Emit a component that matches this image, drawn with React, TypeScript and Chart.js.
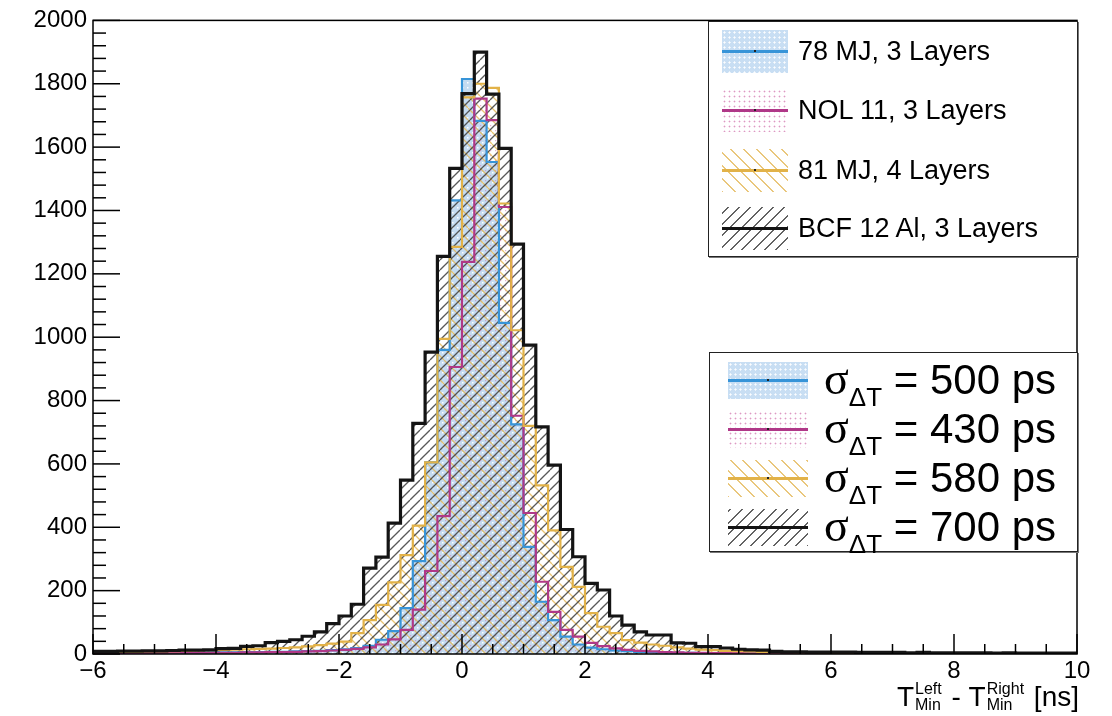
import React, { useEffect, useRef } from 'react';
import { Chart, registerables } from 'chart.js';

Chart.register(...registerables);

// ---------- data ----------
const BIN_START = -6;
const BIN_WIDTH = 0.2;
const X_MIN = -6;
const X_MAX = 10;
const Y_MIN = 0;
const Y_MAX = 2000;

const xTickValues = [-6, -4, -2, 0, 2, 4, 6, 8, 10];
const xTickLabels = ['\u22126', '\u22124', '\u22122', '0', '2', '4', '6', '8', '10'];
const yTickValues = [0, 200, 400, 600, 800, 1000, 1200, 1400, 1600, 1800, 2000];
const yTickLabels = ['0', '200', '400', '600', '800', '1000', '1200', '1400', '1600', '1800', '2000'];

const seriesNames = ['78 MJ, 3 Layers', 'NOL 11, 3 Layers', '81 MJ, 4 Layers', 'BCF 12 Al, 3 Layers'];
const sigmaValues = ['500', '430', '580', '700'];
const axisTitleUnit = '[ns]';

// counts per 0.2 ns bin, from -6 to 10 (80 bins)
const countsBlue = [
  3, 3, 3, 3, 3, 4, 4, 4, 4, 5,
  5, 5, 6, 6, 7, 7, 8, 9, 10, 12,
  15, 19, 26, 45, 72, 145, 293, 605, 960, 1432,
  1815, 1683, 1553, 1045, 725, 338, 165, 107, 55, 30,
  20, 15, 11, 9, 7, 6, 5, 4, 4, 3,
  3, 3, 2, 2, 2, 2, 2, 2, 1, 1,
  1, 1, 1, 1, 1, 1, 2, 2, 1, 1,
  1, 1, 2, 1, 1, 1, 1, 1, 1, 1,
];
const countsMagenta = [
  3, 3, 3, 3, 3, 3, 4, 4, 4, 4,
  4, 4, 5, 5, 6, 6, 7, 8, 9, 11,
  13, 16, 21, 30, 46, 76, 140, 262, 435, 906,
  1238, 1753, 1685, 1411, 752, 445, 228, 133, 76, 55,
  35, 25, 18, 13, 10, 8, 6, 5, 4, 4,
  3, 3, 3, 2, 2, 2, 2, 2, 1, 1,
  1, 1, 1, 1, 1, 1, 1, 1, 1, 1,
  1, 1, 1, 1, 1, 1, 1, 0, 1, 1,
];
const countsGold = [
  6, 6, 7, 7, 8, 8, 9, 10, 11, 12,
  13, 14, 15, 16, 17, 19, 21, 24, 28, 33,
  39, 66, 107, 155, 226, 312, 405, 605, 995, 1285,
  1757, 1800, 1787, 1422, 1022, 720, 532, 390, 275, 212,
  129, 86, 66, 44, 36, 30, 26, 21, 17, 14,
  12, 10, 9, 8, 7, 6, 6, 5, 5, 4,
  4, 4, 3, 3, 3, 3, 3, 3, 2, 2,
  2, 2, 2, 2, 2, 2, 2, 1, 1, 1,
];
const countsBlack = [
  8, 8, 9, 9, 10, 10, 11, 12, 12, 13,
  17, 18, 24, 26, 36, 40, 45, 56, 70, 96,
  120, 157, 271, 306, 413, 549, 728, 953, 1255, 1533,
  1769, 1900, 1767, 1596, 1294, 975, 717, 596, 393, 307,
  223, 202, 120, 91, 70, 60, 60, 35, 34, 23,
  23, 19, 15, 13, 12, 8, 7, 7, 6, 6,
  6, 6, 5, 5, 5, 5, 4, 5, 4, 4,
  4, 4, 4, 3, 4, 3, 3, 3, 3, 3,
];

const COLOR_BLUE = '#3794d8';
const COLOR_MAGENTA = '#b03888';
const COLOR_GOLD = '#e2b248';
const COLOR_BLACK = '#141414';

const FONT = "'Liberation Sans', Arial, Helvetica, sans-serif";

function toSteps(counts: number[]) {
  const pts: { x: number; y: number }[] = [{ x: BIN_START, y: 0 }];
  counts.forEach((c, i) => pts.push({ x: BIN_START + i * BIN_WIDTH, y: c }));
  pts.push({ x: BIN_START + counts.length * BIN_WIDTH, y: counts[counts.length - 1] });
  return pts;
}

function makePattern(kind: string): CanvasPattern | string {
  const c = document.createElement('canvas');
  const g = c.getContext('2d');
  if (!g) return 'transparent';
  if (kind === 'blue') {
    c.width = 5; c.height = 5;
    g.fillStyle = 'rgb(196,219,241)';
    g.fillRect(0, 0, 5, 5);
    g.fillStyle = 'rgba(255,255,255,0.95)';
    g.fillRect(2, 2, 1.5, 1.5);
  } else if (kind === 'magenta') {
    c.width = 5; c.height = 5;
    g.clearRect(0, 0, 5, 5);
    g.fillStyle = 'rgba(210,120,175,0.6)';
    g.fillRect(0, 0, 1.2, 1.2);
  } else if (kind === 'gold') {
    const s = 12;
    c.width = s; c.height = s;
    g.strokeStyle = 'rgba(226,180,80,0.8)';
    g.lineWidth = 1.3;
    for (const x of [-s, 0, s]) {
      g.beginPath(); g.moveTo(x, 0); g.lineTo(x + s, s); g.stroke();
    }
  } else {
    const s = 10;
    c.width = s; c.height = s;
    g.strokeStyle = 'rgba(60,60,60,0.85)';
    g.lineWidth = 1.3;
    for (const x of [-s, 0, s]) {
      g.beginPath(); g.moveTo(x, s); g.lineTo(x + s, 0); g.stroke();
    }
  }
  return g.createPattern(c, 'repeat') || 'transparent';
}

const frameTicks = {
  id: 'frameTicks',
  afterDatasetsDraw(chart: any) {
    const { ctx, chartArea: a, scales } = chart;
    const xs = scales.x;
    const ys = scales.y;
    ctx.save();
    ctx.strokeStyle = '#000';
    ctx.lineWidth = 1.5;
    ctx.strokeRect(a.left, a.top, a.right - a.left, a.bottom - a.top);
    for (let k = 0; k <= 32; k++) {
      const v = X_MIN + k * 0.5;
      const px = xs.getPixelForValue(v);
      const len = k % 4 === 0 ? 20 : 10;
      ctx.beginPath(); ctx.moveTo(px, a.bottom); ctx.lineTo(px, a.bottom - len); ctx.stroke();
    }
    for (let k = 0; k <= 50; k++) {
      const v = k * 40;
      const py = ys.getPixelForValue(v);
      const len = k % 5 === 0 ? 27 : 13;
      ctx.beginPath(); ctx.moveTo(a.left, py); ctx.lineTo(a.left + len, py); ctx.stroke();
    }
    ctx.restore();
  },
};

function Swatch({ kind, color, w, h }: { kind: string; color: string; w: number; h: number }) {
  let bg: React.CSSProperties = {};
  if (kind === 'blue') {
    bg = {
      backgroundColor: 'rgb(200,222,243)',
      backgroundImage: 'radial-gradient(rgba(255,255,255,0.95) 0.9px, transparent 1.2px)',
      backgroundSize: '5px 5px',
    };
  } else if (kind === 'magenta') {
    bg = {
      backgroundImage: 'radial-gradient(rgba(210,120,175,0.75) 0.8px, transparent 1.1px)',
      backgroundSize: '5px 5px',
    };
  } else if (kind === 'gold') {
    bg = {
      backgroundImage: 'repeating-linear-gradient(45deg, rgba(226,180,80,0.75) 0px, rgba(226,180,80,0.75) 1.4px, transparent 1.4px, transparent 9px)',
    };
  } else {
    bg = {
      backgroundImage: 'repeating-linear-gradient(-45deg, rgba(60,60,60,0.8) 0px, rgba(60,60,60,0.8) 1.4px, transparent 1.4px, transparent 8px)',
    };
  }
  return (
    <div style={{ position: 'relative', width: w, height: h, ...bg }}>
      <div style={{ position: 'absolute', left: 0, right: 0, top: h / 2 - 1.5, height: 3, background: color }} />
      <div style={{ position: 'absolute', left: w / 2 - 1, top: h / 2 - 1, width: 2, height: 2, background: '#222' }} />
    </div>
  );
}

const kinds = ['blue', 'magenta', 'gold', 'black'];
const colors = [COLOR_BLUE, COLOR_MAGENTA, COLOR_GOLD, COLOR_BLACK];
const legend1Rows = [51, 110, 170, 228];
const legend2Rows = [380, 429, 478, 527];

export default function App() {
  const canvasRef = useRef<HTMLCanvasElement | null>(null);

  useEffect(() => {
    const canvas = canvasRef.current;
    if (!canvas) return;
    const allCounts = [countsBlue, countsMagenta, countsGold, countsBlack];
    const widths = [2.2, 2.2, 2.2, 3.2];
    const orders = [4, 3, 2, 1];
    const datasets = allCounts.map((counts, i) => ({
      label: seriesNames[i],
      data: toSteps(counts),
      stepped: true,
      fill: 'origin',
      backgroundColor: makePattern(kinds[i]),
      borderColor: colors[i],
      borderWidth: widths[i],
      pointRadius: 0,
      order: orders[i],
    }));
    const chart = new Chart(canvas, {
      type: 'line',
      data: { datasets } as any,
      options: {
        animation: false,
        responsive: false,
        maintainAspectRatio: false,
        parsing: false,
        layout: { padding: { top: 20, right: 35, left: 0, bottom: 0 } },
        plugins: {
          legend: { display: false },
          tooltip: { enabled: false },
          filler: { drawTime: 'beforeDatasetsDraw' },
        },
        scales: {
          x: {
            type: 'linear',
            min: X_MIN,
            max: X_MAX,
            grid: { display: false, drawTicks: false },
            border: { display: false },
            ticks: {
              stepSize: 2,
              padding: 3,
              color: '#000',
              font: { family: FONT, size: 24 },
              maxRotation: 0,
              autoSkip: false,
              callback: (v: any) => {
                const idx = xTickValues.indexOf(Number(v));
                return idx >= 0 ? xTickLabels[idx] : '';
              },
            },
            afterFit: (scale: any) => { scale.height = 62; },
          },
          y: {
            type: 'linear',
            min: Y_MIN,
            max: Y_MAX,
            grid: { display: false, drawTicks: false },
            border: { display: false },
            ticks: {
              stepSize: 200,
              padding: 6,
              color: '#000',
              font: { family: FONT, size: 24 },
              autoSkip: false,
              callback: (v: any) => {
                const idx = yTickValues.indexOf(Number(v));
                return idx >= 0 ? yTickLabels[idx] : '';
              },
            },
            afterFit: (scale: any) => { scale.width = 93; },
          },
        },
      } as any,
      plugins: [frameTicks as any],
    });
    return () => chart.destroy();
  }, []);

  const scriptCol: React.CSSProperties = {
    display: 'inline-flex',
    flexDirection: 'column',
    fontSize: 16,
    lineHeight: '16px',
    marginLeft: 1,
    marginRight: 2,
  };

  return (
    <div style={{ position: 'absolute', left: 0, top: 0, width: 1112, height: 716, background: '#fff', overflow: 'hidden', fontFamily: FONT, color: '#000' }}>
      <canvas ref={canvasRef} width={1112} height={716} style={{ position: 'absolute', left: 0, top: 0, width: 1112, height: 716 }} />

      {/* legend 1 */}
      <div style={{ position: 'absolute', left: 708, top: 21, width: 370, height: 236, boxSizing: 'border-box', border: '1.5px solid #222', background: '#fff', boxShadow: '1px 1px 0 #777' }} />
      {seriesNames.map((name, i) => (
        <React.Fragment key={name}>
          <div style={{ position: 'absolute', left: 722, top: legend1Rows[i] - 21.5 }}>
            <Swatch kind={kinds[i]} color={colors[i]} w={66} h={43} />
          </div>
          <div style={{ position: 'absolute', left: 798, top: legend1Rows[i] - 16, height: 32, lineHeight: '32px', fontSize: 27, whiteSpace: 'nowrap' }}>{name}</div>
        </React.Fragment>
      ))}

      {/* legend 2 */}
      <div style={{ position: 'absolute', left: 709, top: 352, width: 369, height: 200, boxSizing: 'border-box', border: '1.5px solid #222', background: '#fff', boxShadow: '1px 1px 0 #777' }} />
      {sigmaValues.map((s, i) => (
        <React.Fragment key={s}>
          <div style={{ position: 'absolute', left: 728, top: legend2Rows[i] - 18.5 }}>
            <Swatch kind={kinds[i]} color={colors[i]} w={80} h={37} />
          </div>
          <div style={{ position: 'absolute', left: 824, top: legend2Rows[i] - 26, height: 50, lineHeight: '50px', whiteSpace: 'nowrap', fontSize: 42 }}>
            <span style={{ fontFamily: "'Liberation Serif', 'DejaVu Serif', serif", fontSize: 46 }}>σ</span>
            <span style={{ fontSize: 26, position: 'relative', top: 12 }}>ΔT</span>
            <span> = {s} ps</span>
          </div>
        </React.Fragment>
      ))}

      {/* x axis title */}
      <div style={{ position: 'absolute', right: 33, top: 680, display: 'flex', alignItems: 'center', fontSize: 28, lineHeight: '34px', whiteSpace: 'nowrap' }}>
        <span>T</span>
        <span style={scriptCol}><span>Left</span><span>Min</span></span>
        <span>&nbsp;-&nbsp;T</span>
        <span style={scriptCol}><span>Right</span><span>Min</span></span>
        <span>&nbsp;{axisTitleUnit}</span>
      </div>
    </div>
  );
}
